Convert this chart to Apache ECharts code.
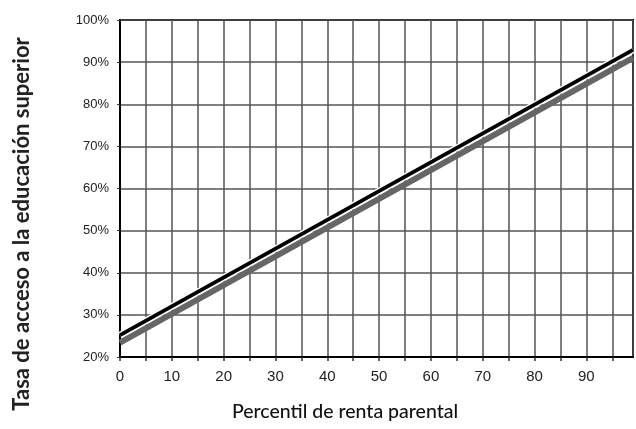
<!DOCTYPE html>
<html>
<head>
<meta charset="utf-8">
<script src="https://cdn.jsdelivr.net/npm/echarts@6/dist/echarts.min.js"></script>
<style>html,body{margin:0;padding:0;background:#fff}#c{width:636px;height:429px}</style>
</head>
<body>
<div id="c"></div>
<script>
var percentiles = [0, 99];
var blackLine = [25.2, 92.9];
var grayLine = [23.4, 91.0];
var xTitle = 'Percentil de renta parental';
var yTitle = 'Tasa de acceso a la educación superior';

function pairs(xs, ys){ return xs.map(function(x,i){ return [x, ys[i]]; }); }

var narrow = 'Liberation Sans Narrow, Arial Narrow, sans-serif';
var chart = echarts.init(document.getElementById('c'));
chart.setOption({
  animation: false,
  grid: {left: 120, right: 3, top: 20, bottom: 72, show: true, borderColor: '#000', borderWidth: 2, backgroundColor: 'transparent'},
  graphic: [
    {type: 'text', z: 100, x: 345, y: 412,
     style: {text: xTitle, font: '500 19.5px Lato', fill: '#111', align: 'center', verticalAlign: 'middle'}},
    {type: 'text', z: 100, rotation: Math.PI / 2, x: 22, y: 224,
     style: {text: yTitle, font: 'bold 22px Lato', fill: '#222', align: 'center', verticalAlign: 'middle'}}
  ],
  xAxis: {
    type: 'value', min: 0, max: 99, interval: 5,
    axisLine: {show: true, lineStyle: {color: '#000', width: 2}},
    axisTick: {show: true, length: 4, lineStyle: {color: '#333', width: 1.5}},
    axisLabel: {color: '#222', fontSize: 15, fontFamily: narrow, margin: 12,
      showMaxLabel: false,
      formatter: function(v){ return v % 10 === 0 ? String(v) : ''; }},
    splitLine: {show: true, lineStyle: {color: '#555', width: 1.5}}
  },
  yAxis: {
    type: 'value', min: 20, max: 100, interval: 10,
    axisLine: {show: true, lineStyle: {color: '#000', width: 2}},
    axisTick: {show: true, length: 3, lineStyle: {color: '#333'}},
    axisLabel: {color: '#222', fontSize: 13, fontFamily: narrow, margin: 11,
      formatter: '{value}%'},
    splitLine: {show: true, lineStyle: {color: '#555', width: 1.5}}
  },
  series: [
    {type: 'line', data: pairs(percentiles, grayLine), symbol: 'none', lineStyle: {color: '#666', width: 6}},
    {type: 'line', data: pairs(percentiles, blackLine), symbol: 'none', lineStyle: {color: '#fff', width: 6.5}},
    {type: 'line', data: pairs(percentiles, blackLine), symbol: 'none', lineStyle: {color: '#000', width: 3.8}}
  ]
});
</script>
</body>
</html>
